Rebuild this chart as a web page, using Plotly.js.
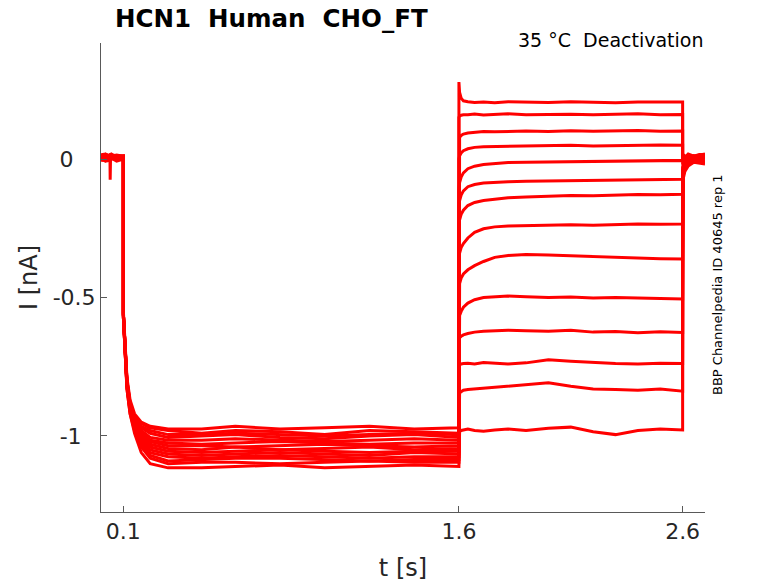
<!DOCTYPE html>
<html>
<head>
<meta charset="utf-8">
<script src="https://cdn.plot.ly/plotly-3.0.1.min.js"></script>
<style>
  html, body { margin: 0; padding: 0; background: #fff; }
  #chart { width: 778px; height: 583px; }
</style>
</head>
<body>
<div id="chart"></div>
<script>
// time points (s) for each protocol segment
const holdT = [0, 0.02, 0.04, 0.041, 0.043, 0.07, 0.1];
const preT = [0.1, 0.104, 0.108, 0.116, 0.13, 0.15, 0.18, 0.22, 0.3, 0.45, 0.6, 0.8, 1.0, 1.2, 1.4, 1.6];
const tailT = [1.6, 1.603, 1.61, 1.62, 1.64, 1.67, 1.71, 1.76, 1.82, 1.9, 2.0, 2.1, 2.2, 2.3, 2.4, 2.5, 2.6];
const postT = [2.6, 2.603, 2.61, 2.625, 2.65, 2.675, 2.7];

const holdI = [
  [0.005, 0.015, 0.01, -0.075, 0.02, 0.005, 0.01],
  [0.0, -0.008, -0.005, -0.01, 0.01, 0.0, 0.005],
  [0.01, 0.0, 0.005, 0.0, 0.0, 0.012, 0.0],
  [-0.005, 0.01, 0.0, 0.005, 0.01, -0.005, 0.005],
  [0.012, 0.004, 0.008, 0.01, 0.005, 0.01, 0.012],
  [0.0, 0.012, 0.01, 0.005, 0.0, 0.005, -0.005],
  [0.008, -0.004, 0.0, 0.008, 0.012, 0.0, 0.008],
  [-0.008, 0.006, -0.005, 0.0, 0.005, -0.008, 0.0],
  [0.015, 0.018, 0.012, 0.01, 0.015, 0.012, 0.01],
  [0.004, -0.006, 0.006, 0.002, 0.004, 0.008, 0.002],
  [-0.002, 0.01, 0.004, -0.004, 0.0, 0.002, -0.002],
  [0.01, 0.002, 0.014, 0.012, 0.008, 0.014, 0.01],
  [0.002, 0.016, -0.002, 0.006, 0.002, 0.0, 0.006],
  [0.006, -0.002, 0.01, 0.004, 0.006, 0.01, 0.004]
];

const preI = [
  [-0.56, -0.62, -0.66, -0.80, -0.88, -0.93, -0.955, -0.97, -0.98, -0.99, -0.98, -0.985, -0.995, -0.98, -0.985, -0.99],
  [-0.56, -0.62, -0.67, -0.81, -0.90, -0.95, -1.00, -1.03, -1.045, -1.05, -1.04, -1.05, -1.045, -1.04, -1.05, -1.045],
  [-0.56, -0.62, -0.66, -0.80, -0.89, -0.94, -0.97, -0.99, -1.005, -1.00, -0.995, -1.005, -1.01, -1.00, -0.995, -1.005],
  [-0.57, -0.63, -0.68, -0.82, -0.91, -0.97, -1.03, -1.07, -1.09, -1.085, -1.08, -1.08, -1.085, -1.09, -1.085, -1.085],
  [-0.56, -0.62, -0.67, -0.81, -0.89, -0.95, -0.99, -1.015, -1.025, -1.03, -1.025, -1.02, -1.025, -1.03, -1.025, -1.025],
  [-0.57, -0.63, -0.67, -0.82, -0.90, -0.96, -1.01, -1.05, -1.065, -1.07, -1.065, -1.06, -1.065, -1.07, -1.06, -1.065],
  [-0.55, -0.61, -0.65, -0.79, -0.87, -0.92, -0.95, -0.965, -0.975, -0.975, -0.965, -0.975, -0.97, -0.965, -0.975, -0.97],
  [-0.57, -0.63, -0.68, -0.83, -0.92, -0.98, -1.04, -1.08, -1.10, -1.095, -1.095, -1.10, -1.095, -1.09, -1.095, -1.095],
  [-0.56, -0.62, -0.67, -0.81, -0.89, -0.95, -0.99, -1.02, -1.035, -1.035, -1.04, -1.035, -1.03, -1.035, -1.04, -1.035],
  [-0.56, -0.62, -0.66, -0.80, -0.88, -0.93, -0.965, -0.98, -0.995, -0.995, -0.99, -0.995, -1.00, -0.995, -0.99, -0.995],
  [-0.57, -0.63, -0.68, -0.82, -0.91, -0.97, -1.02, -1.06, -1.075, -1.08, -1.075, -1.07, -1.075, -1.08, -1.075, -1.075],
  [-0.56, -0.62, -0.67, -0.81, -0.90, -0.96, -1.00, -1.04, -1.055, -1.06, -1.055, -1.05, -1.055, -1.06, -1.055, -1.055],
  [-0.56, -0.62, -0.67, -0.81, -0.89, -0.94, -0.98, -1.005, -1.015, -1.015, -1.01, -1.015, -1.02, -1.015, -1.01, -1.015],
  [-0.57, -0.63, -0.68, -0.83, -0.92, -0.99, -1.06, -1.10, -1.115, -1.115, -1.11, -1.105, -1.115, -1.11, -1.105, -1.11]
];

const tailI = [
  [0.278, 0.24, 0.22, 0.21, 0.207, 0.204, 0.206, 0.203, 0.207, 0.205, 0.204, 0.207, 0.205, 0.203, 0.206, 0.205, 0.206],
  [0.15, 0.155, 0.158, 0.16, 0.16, 0.162, 0.159, 0.161, 0.163, 0.16, 0.161, 0.162, 0.16, 0.161, 0.163, 0.16, 0.161],
  [0.07, 0.078, 0.085, 0.09, 0.094, 0.097, 0.099, 0.098, 0.1, 0.101, 0.099, 0.102, 0.1, 0.101, 0.103, 0.1, 0.101],
  [0.0, 0.012, 0.022, 0.03, 0.037, 0.042, 0.044, 0.045, 0.047, 0.046, 0.048, 0.05, 0.047, 0.049, 0.05, 0.051, 0.05],
  [-0.11, -0.085, -0.065, -0.05, -0.035, -0.026, -0.02, -0.016, -0.013, -0.012, -0.011, -0.009, -0.01, -0.007, -0.006, -0.007, -0.005],
  [-0.17, -0.15, -0.13, -0.115, -0.1, -0.092, -0.087, -0.084, -0.082, -0.08, -0.079, -0.077, -0.078, -0.075, -0.074, -0.075, -0.073],
  [-0.24, -0.22, -0.2, -0.185, -0.168, -0.157, -0.15, -0.145, -0.14, -0.137, -0.135, -0.132, -0.133, -0.13, -0.128, -0.129, -0.127],
  [-0.36, -0.34, -0.32, -0.305, -0.285, -0.265, -0.252, -0.245, -0.242, -0.24, -0.238, -0.237, -0.239, -0.236, -0.235, -0.236, -0.235],
  [-0.47, -0.45, -0.43, -0.415, -0.4, -0.385, -0.37, -0.355, -0.348, -0.345, -0.347, -0.35, -0.352, -0.355, -0.357, -0.36, -0.361],
  [-0.58, -0.565, -0.55, -0.535, -0.52, -0.508, -0.5, -0.497, -0.495, -0.497, -0.5, -0.498, -0.502, -0.5, -0.503, -0.504, -0.505],
  [-0.65, -0.645, -0.64, -0.635, -0.63, -0.625, -0.622, -0.62, -0.618, -0.62, -0.622, -0.618, -0.625, -0.623, -0.627, -0.624, -0.626],
  [-0.745, -0.742, -0.74, -0.738, -0.737, -0.74, -0.735, -0.738, -0.74, -0.736, -0.725, -0.73, -0.735, -0.738, -0.74, -0.737, -0.738],
  [-0.85, -0.845, -0.84, -0.835, -0.832, -0.83, -0.826, -0.822, -0.82, -0.815, -0.808, -0.82, -0.83, -0.832, -0.835, -0.83, -0.838],
  [-0.99, -0.985, -0.98, -0.978, -0.975, -0.98, -0.983, -0.978, -0.975, -0.98, -0.972, -0.968, -0.985, -0.995, -0.98, -0.975, -0.978]
];

const postI = [
  [0.01, 0.015, 0.005, 0.018, 0.01, 0.016, 0.015],
  [0.005, 0.0, 0.01, -0.005, 0.008, 0.0, -0.01],
  [0.0, 0.012, 0.0, 0.01, -0.004, 0.012, 0.01],
  [-0.01, 0.0, 0.008, -0.01, 0.005, -0.008, -0.015],
  [-0.02, -0.01, 0.0, 0.008, -0.006, 0.006, 0.005],
  [-0.03, -0.015, -0.005, 0.004, 0.012, 0.0, 0.012],
  [-0.04, -0.025, -0.012, -0.004, 0.0, -0.01, -0.005],
  [-0.05, -0.03, -0.015, 0.0, 0.01, 0.014, 0.018],
  [-0.06, -0.04, -0.02, -0.01, -0.004, -0.012, -0.012],
  [-0.07, -0.045, -0.025, -0.008, 0.004, 0.0, 0.008],
  [-0.075, -0.05, -0.028, -0.015, -0.008, -0.004, -0.008],
  [-0.08, -0.055, -0.032, -0.018, 0.0, 0.006, 0.0],
  [-0.085, -0.06, -0.035, -0.02, -0.01, 0.008, 0.014],
  [-0.095, -0.07, -0.045, -0.025, -0.012, -0.014, -0.018]
];

const xTicks = [0.1, 1.6, 2.6];
const xTickText = ['0.1', '1.6', '2.6'];
const yTicks = [0, -0.5, -1];
const yTickText = ['0\u2002\u2002', '-0.5', '-1\u2007'];

const font = 'DejaVu Sans';
const ink = '#262626';
const axisGray = '#595959';

const time = holdT.concat(preT, tailT, postT);
const traces = holdI.map((h, k) => ({
  type: 'scatter',
  mode: 'lines',
  x: time,
  y: h.concat(preI[k], tailI[k], postI[k]),
  line: { color: '#ff0000', width: 3 },
  hoverinfo: 'skip',
  showlegend: false
}));

const layout = {
  width: 778,
  height: 583,
  paper_bgcolor: '#fff',
  plot_bgcolor: '#fff',
  margin: { l: 101, r: 73, t: 43, b: 71 },
  font: { family: font, color: ink },
  title: {
    text: '<b>HCN1\u00a0\u00a0Human\u00a0\u00a0CHO_FT</b>',
    font: { family: font, size: 24.5, color: '#000' },
    x: 115 / 778, xref: 'container', xanchor: 'left',
    y: 1 - 18 / 583, yref: 'container', yanchor: 'middle'
  },
  xaxis: {
    range: [0, 2.7],
    tickmode: 'array', tickvals: xTicks, ticktext: xTickText,
    ticks: 'inside', ticklen: 6, tickcolor: axisGray, tickwidth: 1,
    showline: true, linecolor: axisGray, linewidth: 1,
    showgrid: false, zeroline: false,
    tickfont: { family: font, size: 22, color: ink },
    title: { text: 't [s]', font: { family: font, size: 24, color: ink }, standoff: 15 }
  },
  yaxis: {
    range: [-1.2744, 0.4188],
    tickmode: 'array', tickvals: yTicks, ticktext: yTickText,
    ticks: 'inside', ticklen: 6, tickcolor: axisGray, tickwidth: 1,
    showline: true, linecolor: axisGray, linewidth: 1,
    showgrid: false, zeroline: false,
    tickfont: { family: font, size: 22, color: ink },
    title: { text: 'I [nA]', font: { family: font, size: 24, color: ink }, standoff: 8 }
  },
  annotations: [
    {
      text: '35 \u00b0C\u00a0\u00a0Deactivation',
      xref: 'paper', yref: 'paper',
      x: (705 - 101) / 604, y: (512 - 40) / 469,
      xanchor: 'right', yanchor: 'middle',
      showarrow: false,
      font: { family: font, size: 19, color: '#000' }
    },
    {
      text: 'BBP Channelpedia ID 40645 rep 1',
      xref: 'paper', yref: 'paper',
      x: (717 - 101) / 604, y: (512 - 285) / 469,
      xanchor: 'center', yanchor: 'middle',
      textangle: -90,
      showarrow: false,
      font: { family: font, size: 13, color: '#000' }
    }
  ]
};

Plotly.newPlot('chart', traces, layout, { displayModeBar: false, staticPlot: true });
</script>
</body>
</html>
